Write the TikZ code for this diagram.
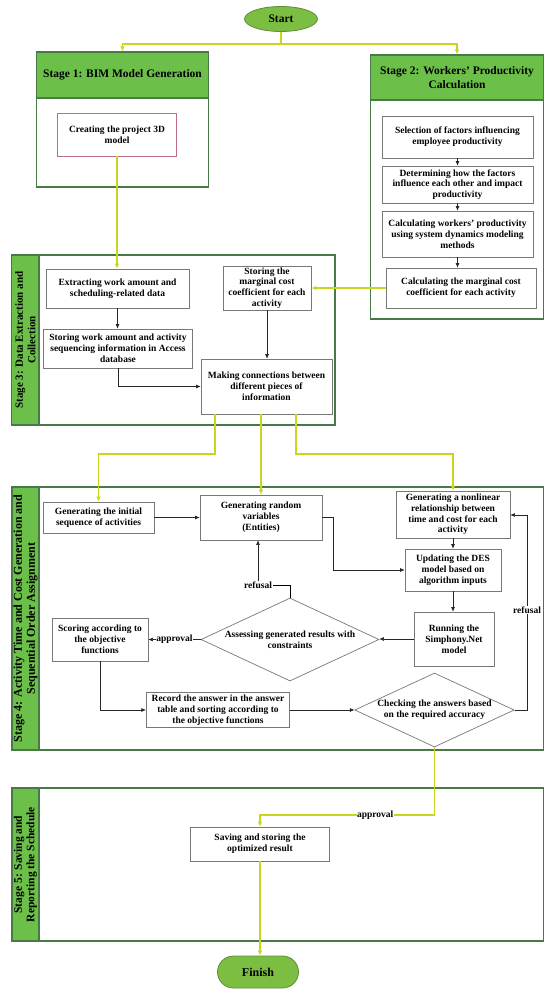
\documentclass[tikz,border=0pt]{standalone}
\usepackage{fontspec}
\setmainfont{Liberation Serif}
\usetikzlibrary{shapes.geometric,arrows.meta}
\definecolor{stagegreen}{RGB}{108,192,74}
\definecolor{edgegreen}{RGB}{72,122,72}
\definecolor{termgreen}{RGB}{124,190,66}
\definecolor{termedge}{RGB}{96,140,60}
\definecolor{flowyellow}{RGB}{200,214,30}
\definecolor{boxgray}{RGB}{120,120,120}
\definecolor{boxpink}{RGB}{190,110,140}
\begin{document}
\begin{tikzpicture}[x=1pt, y=-1pt,
  every node/.style={font=\bfseries\fontsize{9.5}{10.8}\selectfont, align=center, inner sep=1pt},
  term/.style={draw=termedge, fill=termgreen, line width=0.8pt, font=\bfseries\fontsize{11.5}{13}\selectfont},
  stagehead/.style={rectangle, draw=edgegreen, fill=stagegreen, line width=1.2pt, font=\bfseries\fontsize{11.5}{13.5}\selectfont},
  stagebar/.style={rectangle, draw=edgegreen, fill=stagegreen, line width=1.2pt, rotate=90, font=\bfseries\fontsize{11.5}{12.5}\selectfont},
  stagebody/.style={rectangle, draw=edgegreen, fill=white, line width=1.2pt},
  taskbox/.style={rectangle, draw=boxgray, fill=white, line width=0.7pt},
  checkbox/.style={diamond, draw=boxgray, fill=white, line width=0.7pt, inner sep=0pt},
  lbl/.style={fill=white, inner sep=0.5pt},
  arr/.style={-{Latex[length=4.5pt,width=4pt]}, line width=0.6pt, draw=black!85},
  flow/.style={-{Latex[length=5pt,width=4.5pt]}, line width=1.3pt, draw=flowyellow}
]
\useasboundingbox[fill=white] (0,0) rectangle (550,998);
% start
\node[term, ellipse, minimum width=73, minimum height=25] (start) at (281,19) {Start};
% stage 1
\node[stagebody, minimum width=172, minimum height=89] (s1b) at (122.5,142.5) {};
\node[stagehead, minimum width=172, minimum height=46] (s1h) at (122.5,75) {Stage 1: BIM Model Generation};
\node[taskbox, draw=boxpink, minimum width=119, minimum height=43] (model) at (117,134.5) {Creating the project 3D\\model};
% stage 2
\node[stagebody, minimum width=173, minimum height=219] (s2b) at (457,209.5) {};
\node[stagehead, minimum width=173, minimum height=45] (s2h) at (457,77.5) {Stage 2: Workers' Productivity\\Calculation};
\node[taskbox, minimum width=151, minimum height=42] (fact) at (457.5,137) {Selection of factors influencing\\employee productivity};
\node[taskbox, minimum width=151, minimum height=37] (relate) at (457.5,184.5) {Determining how the factors\\influence each other and impact\\productivity};
\node[taskbox, minimum width=151, minimum height=46] (sdm) at (457.5,234) {Calculating workers' productivity\\using system dynamics modeling\\methods};
\node[taskbox, minimum width=150, minimum height=40] (mcost) at (461,288) {Calculating the marginal cost\\coefficient for each activity};
% stage 3
\node[stagebody, minimum width=296, minimum height=170] (s3b) at (187,340) {};
\node[stagebar, minimum width=170, minimum height=27.3, font=\bfseries\fontsize{11}{12.5}\selectfont] (s3l) at (25.4,340) {Stage 3: Data Extraction and\\Collection};
\node[taskbox, minimum width=143, minimum height=39] (extract) at (117.5,288.5) {Extracting work amount and\\scheduling-related data};
\node[taskbox, minimum width=148.5, minimum height=39] (access) at (118,348.5) {Storing work amount and activity\\sequencing information in Access\\database};
\node[taskbox, minimum width=88, minimum height=44] (mstore) at (267,288) {Storing the\\marginal cost\\coefficient for each\\activity};
\node[taskbox, minimum width=131, minimum height=55] (link) at (266.5,386.5) {Making connections between\\different pieces of\\information};
% stage 4
\node[stagebody, minimum width=504.6, minimum height=263] (s4b) at (291.3,618.5) {};
\node[stagebar, minimum width=263, minimum height=27, font=\bfseries\fontsize{12}{13}\selectfont] (s4l) at (25.5,618.5) {Stage 4: Activity Time and Cost Generation and\\Sequential Order Assignment};
\node[taskbox, minimum width=111, minimum height=31] (initseq) at (98.5,517.5) {Generating the initial\\sequence of activities};
\node[taskbox, minimum width=122, minimum height=45] (randvar) at (261,517.5) {Generating random\\variables\\(Entities)};
\node[taskbox, minimum width=114, minimum height=47] (nonlin) at (453,514.5) {Generating a nonlinear\\relationship between\\time and cost for each\\activity};
\node[taskbox, minimum width=96, minimum height=42] (desupd) at (453,570) {Updating the DES\\model based on\\algorithm inputs};
\node[checkbox, minimum width=178, minimum height=83] (assess) at (290,639.5) {};
\node (assesstxt) at (assess) {Assessing generated results with\\constraints};
\node[taskbox, minimum width=80, minimum height=54] (simph) at (454,639) {Running the\\Simphony.Net\\model};
\node[taskbox, minimum width=96, minimum height=43] (score) at (100,639.5) {Scoring according to\\the objective\\functions};
\node[taskbox, minimum width=143.5, minimum height=35] (record) at (218,710) {Record the answer in the answer\\table and sorting according to\\the objective functions};
\node[checkbox, minimum width=159.5, minimum height=74] (check) at (434.5,710) {};
\node (checktxt) at (check) {Checking the answers based\\on the required accuracy};
% stage 5
\node[stagebody, minimum width=504.6, minimum height=153] (s5b) at (291.3,864.5) {};
\node[stagebar, minimum width=153, minimum height=27] (s5l) at (25.5,864.5) {Stage 5: Saving and\\Reporting the Schedule};
\node[taskbox, minimum width=138.5, minimum height=34] (save) at (260,844) {Saving and storing the\\optimized result};
% finish
\node[term, rectangle, rounded corners=16pt, minimum width=81, minimum height=32, font=\bfseries\fontsize{12}{13}\selectfont] (finish) at (258,972) {Finish};
% connectors
\coordinate (split) at (281,44);
\coordinate (hl) at (215,454);
\coordinate (hr) at (296,454);
\coordinate (jl) at (333,570);
\coordinate (qr) at (527,515);
\coordinate (apv) at (260,815);
\draw[flow] (start) -- (split) -| (s1h);
\draw[flow] (split) -| (s2h);
\draw[flow] (model.south) -- (model.south |- extract.north);
\draw[arr] (fact) -- (relate);
\draw[arr] (relate) -- (sdm);
\draw[arr] (sdm.south) -- (sdm.south |- mcost.north);
\draw[flow] (mcost) -- (mstore);
\draw[arr] (extract.south) -- (extract.south |- access.north);
\draw[arr] (mstore.south) -- (mstore.south |- link.north);
\draw[arr] (access.south) |- (link.west);
\draw[flow] (link.south -| hl) -- (hl) -| (initseq.north);
\draw[flow] (link.south -| randvar.north) -- (randvar.north);
\draw[flow] (link.south -| hr) -- (hr) -| (nonlin.north);
\draw[arr] (initseq) -- (randvar);
\draw[arr] (randvar.east) -| (jl) -- (jl -| desupd.west);
\draw[arr] (nonlin) -- (desupd);
\draw[arr] (desupd.south) -- (desupd.south |- simph.north);
\draw[arr] (simph.west) -- (simph.west -| assess.east);
\draw[arr] (assess.west) -- node[lbl] (approve1) {approval} (assess.west -| score.east);
\node[lbl] (refuse1) at (258,585) {refusal};
\draw (assess.north) |- (refuse1.east);
\draw[arr] (refuse1.north) -- (refuse1.north |- randvar.south);
\draw[arr] (score.south) |- (record.west);
\draw[arr] (record.east) -- (record.east -| check.west);
\draw[arr] (check.east) -| (qr) -- (qr -| nonlin.east);
\node[lbl] (refuse2) at (527,610) {refusal};
\draw[flow] (check.south) |- node[lbl, pos=0.67, text=black] (approve2) {approval} (apv) -- (save.north);
\draw[flow] (save.south) -- (save.south |- finish.north);
\end{tikzpicture}
\end{document}
